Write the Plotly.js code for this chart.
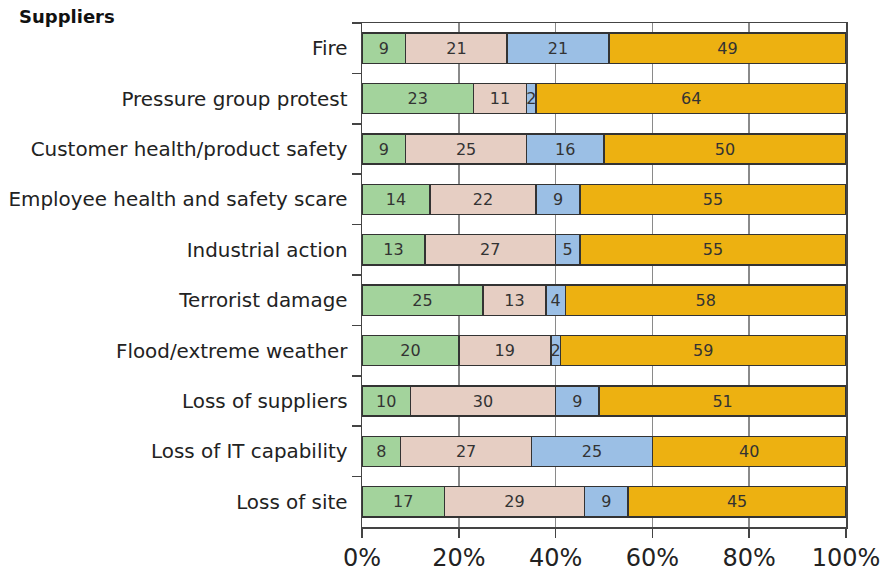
<!DOCTYPE html>
<html><head><meta charset="utf-8">
<script src="https://cdn.plot.ly/plotly-3.0.1.min.js"></script>
<style>html,body{margin:0;padding:0;background:#fff}#c{width:893px;height:575px}</style>
</head><body><div id="c"></div>
<script>
const categories = ["Fire","Pressure group protest","Customer health/product safety","Employee health and safety scare","Industrial action","Terrorist damage","Flood/extreme weather","Loss of suppliers","Loss of IT capability","Loss of site"];
const s1 = [9,23,9,14,13,25,20,10,8,17];
const s2 = [21,11,25,22,27,13,19,30,27,29];
const s3 = [21,2,16,9,5,4,2,9,25,9];
const s4 = [49,64,50,55,55,58,59,51,40,45];
const colors = ["#a3d39c","#e6cec3","#9bbfe5","#edb111"];
const xTicks = [0,20,40,60,80,100];
const FONT = "DejaVu Sans, sans-serif";
const traces = [s1,s2,s3,s4].map((v,i)=>({
  type:"bar", orientation:"h", y:categories, x:v,
  text:v.map(String), textposition:"inside", insidetextanchor:"middle", textangle:0,
  textfont:{family:FONT,size:16,color:"#333"},
  marker:{color:colors[i], line:{color:"#333",width:1.5}},
  hoverinfo:"skip", showlegend:false, cliponaxis:false
}));
const layout = {
  width:893, height:575, barmode:"stack", bargap:0.4,
  margin:{l:362,r:47,t:23,b:48}, paper_bgcolor:"#fff", plot_bgcolor:"#fff",
  font:{family:FONT,color:"#222"}, uniformtext:{mode:"show", minsize:16},
  xaxis:{range:[0,100], tickvals:xTicks, ticktext:xTicks.map(t=>t+"%"),
    showgrid:true, gridcolor:"#8a8a8a", gridwidth:1.5, zeroline:false,
    showline:true, linecolor:"#444", linewidth:1.5, mirror:true,
    ticks:"outside", ticklen:9, tickwidth:1.5, tickcolor:"#444",
    tickfont:{size:24,color:"#222"}, fixedrange:true},
  yaxis:{type:"category", categoryorder:"array", categoryarray:categories, autorange:"reversed",
    tickson:"boundaries", ticks:"outside", ticklen:9, tickwidth:1.5, tickcolor:"#444",
    showline:true, linecolor:"#444", linewidth:1.5, mirror:true, showgrid:false,
    tickfont:{size:19.9,color:"#222"}, ticklabelstandoff:9, fixedrange:true},
  annotations:[{text:"<b>Suppliers</b>", xref:"paper", yref:"paper", x:(17-362)/484, y:1, xanchor:"left", yanchor:"bottom",
    yshift:-6, showarrow:false, font:{family:FONT,size:18,color:"#111"}}]
};
Plotly.newPlot("c", traces, layout, {displayModeBar:false, staticPlot:true});
</script></body></html>
